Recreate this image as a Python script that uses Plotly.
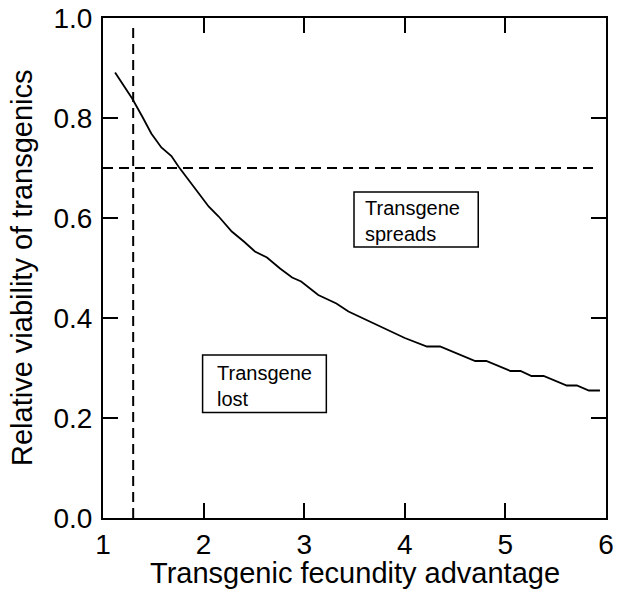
import plotly.graph_objects as go

# Data
fecundity = [1.12, 1.29, 1.39, 1.48, 1.58, 1.68, 1.75, 1.85, 1.95, 2.05, 2.15, 2.28,
             2.40, 2.51, 2.63, 2.76, 2.88, 2.97, 3.14, 3.32, 3.44, 3.60, 3.80, 4.00,
             4.22, 4.35, 4.70, 4.81, 5.05, 5.15, 5.26, 5.38, 5.61, 5.71, 5.83, 5.94]
viability = [0.891, 0.839, 0.803, 0.769, 0.741, 0.724, 0.703, 0.676, 0.649, 0.623,
             0.603, 0.573, 0.553, 0.533, 0.521, 0.499, 0.481, 0.473, 0.446, 0.429,
             0.413, 0.398, 0.378, 0.360, 0.343, 0.343, 0.314, 0.314, 0.294, 0.294,
             0.284, 0.284, 0.265, 0.265, 0.255, 0.255]

threshold_fecundity = 1.3
threshold_viability = 0.7

x_ticks = [1, 2, 3, 4, 5, 6]
y_ticks = [0.0, 0.2, 0.4, 0.6, 0.8, 1.0]

region_labels = ["Transgene<br>spreads", "Transgene<br>lost"]
x_title = "Transgenic fecundity advantage"
y_title = "Relative viability of transgenics"

FONT = "Liberation Sans, Arial, Helvetica, sans-serif"

fig = go.Figure()

fig.add_trace(go.Scatter(x=fecundity, y=viability, mode="lines",
                         line=dict(color="black", width=1.8), showlegend=False))
fig.add_trace(go.Scatter(x=[threshold_fecundity, threshold_fecundity], y=[0.0, 0.98],
                         mode="lines", line=dict(color="black", width=2, dash="10px,6px"),
                         showlegend=False))
fig.add_trace(go.Scatter(x=[1.0, 5.93], y=[threshold_viability, threshold_viability],
                         mode="lines", line=dict(color="black", width=2, dash="10px,6px"),
                         showlegend=False))

# label boxes
fig.add_shape(type="rect", x0=3.495, x1=4.73, y0=0.542, y1=0.652,
              line=dict(color="black", width=1.5), fillcolor="white", layer="above")
fig.add_shape(type="rect", x0=1.99, x1=3.22, y0=0.211, y1=0.326,
              line=dict(color="black", width=1.5), fillcolor="white", layer="above")

fig.add_annotation(x=3.58, y=0.595, xref="x", yref="y", text=region_labels[0],
                   showarrow=False, xanchor="left", yanchor="middle", align="left",
                   font=dict(family=FONT, size=20, color="black"))
fig.add_annotation(x=2.11, y=0.264, xref="x", yref="y", text=region_labels[1],
                   showarrow=False, xanchor="left", yanchor="middle", align="left",
                   font=dict(family=FONT, size=20, color="black"))

# axis titles as annotations for exact placement
fig.add_annotation(x=-(103 - 22) / 503, y=0.5, xref="paper", yref="paper",
                   text=y_title, textangle=-90, showarrow=False,
                   xanchor="center", yanchor="middle",
                   font=dict(family=FONT, size=29, color="black"))
fig.add_annotation(x=0.5, y=-(573 - 518) / 500, xref="paper", yref="paper",
                   text=x_title, showarrow=False,
                   xanchor="center", yanchor="middle",
                   font=dict(family=FONT, size=29, color="black"))

axis_common = dict(ticks="inside", ticklen=15, tickwidth=1.8, tickcolor="black",
                   showline=True, linewidth=2, linecolor="black", mirror="ticks",
                   showgrid=False, zeroline=False, automargin=False,
                   tickfont=dict(family=FONT, size=28, color="black"))

fig.update_xaxes(range=[1, 6], tickvals=x_ticks, ticktext=[str(v) for v in x_ticks],
                 **axis_common)
fig.update_yaxes(range=[0, 1], tickvals=y_ticks, ticktext=[f"{v:.1f}" for v in y_ticks],
                 ticklabelstandoff=3,
                 **axis_common)

fig.update_layout(width=626, height=596,
                  margin=dict(l=103, r=20, t=18, b=78),
                  plot_bgcolor="white", paper_bgcolor="white",
                  font=dict(family=FONT, color="black"))

fig.write_html("out.html")
